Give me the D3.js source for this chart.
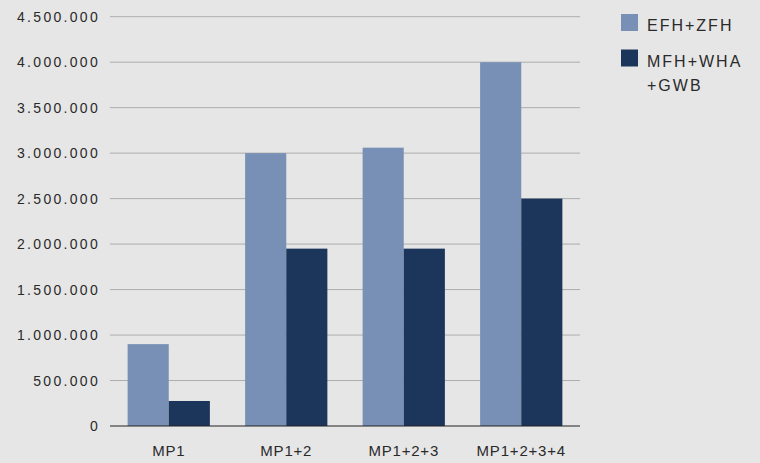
<!DOCTYPE html>
<html>
<head>
<meta charset="utf-8">
<script src="https://cdn.jsdelivr.net/npm/d3@7"></script>
<style>
  html, body { margin: 0; padding: 0; background: #e6e6e6; }
  svg { display: block; }
  text { font-family: "Liberation Sans", Arial, sans-serif; fill: #2a2a2a; }
</style>
</head>
<body>
<svg id="chart" width="760" height="463"></svg>
<script>
// Investment volume per scenario, grouped by building type
const categories = ["MP1", "MP1+2", "MP1+2+3", "MP1+2+3+4"];
const seriesNames = ["EFH+ZFH", "MFH+WHA+GWB"];
const efhZfh = [900000, 3000000, 3060000, 4000000];
const mfhWhaGwb = [275000, 1950000, 1950000, 2500000];
const yTicks = [0, 500000, 1000000, 1500000, 2000000, 2500000, 3000000, 3500000, 4000000, 4500000];
const colors = ["#7890b5", "#1c355a"];

const svg = d3.select("#chart");
const plot = { left: 110, right: 580, top: 16.7, bottom: 426 };

const x0 = d3.scaleBand().domain(categories).range([plot.left, plot.right])
  .paddingInner(0.3).paddingOuter(0.15);
const x1 = d3.scaleBand().domain(seriesNames).range([0, x0.bandwidth()]);
const y = d3.scaleLinear().domain([0, 4500000]).range([plot.bottom, plot.top]);

const fmt = v => d3.format(",")(v).replace(/,/g, ".");

// horizontal grid lines
svg.append("g").selectAll("line").data(yTicks.filter(d => d > 0)).join("line")
  .attr("x1", plot.left).attr("x2", plot.right)
  .attr("y1", d => y(d)).attr("y2", d => y(d))
  .attr("stroke", "#adadad").attr("stroke-width", 1);

// y-axis labels
const yAxis = d3.axisLeft(y).tickValues(yTicks).tickFormat(fmt).tickSize(0).tickPadding(10);
svg.append("g").attr("transform", `translate(${plot.left},0)`).call(yAxis)
  .call(g => g.select(".domain").remove())
  .call(g => g.selectAll("text")
    .attr("font-size", 14).attr("fill", "#333")
    .style("letter-spacing", "2.3px")
    .style("font-family", "'Liberation Sans', Arial, sans-serif"));

// bars
const rows = categories.map((c, i) => ({ c, vals: [efhZfh[i], mfhWhaGwb[i]] }));
svg.append("g").selectAll("g").data(rows).join("g")
  .attr("transform", d => `translate(${x0(d.c)},0)`)
  .selectAll("rect").data(d => d.vals.map((v, k) => ({ k, v }))).join("rect")
  .attr("x", d => x1(seriesNames[d.k]))
  .attr("width", x1.bandwidth())
  .attr("y", d => y(d.v))
  .attr("height", d => y(0) - y(d.v))
  .attr("fill", d => colors[d.k]);

// baseline
svg.append("line").attr("x1", plot.left).attr("x2", plot.right)
  .attr("y1", y(0)).attr("y2", y(0))
  .attr("stroke", "#222").attr("stroke-width", 1.2);

// x-axis labels
const xAxis = d3.axisBottom(x0).tickSize(0).tickPadding(19);
svg.append("g").attr("transform", `translate(0,${plot.bottom})`).call(xAxis)
  .call(g => g.select(".domain").remove())
  .call(g => g.selectAll("text")
    .attr("font-size", 15).attr("fill", "#111")
    .style("letter-spacing", "0.8px")
    .style("font-family", "'Liberation Sans', Arial, sans-serif"));

// legend
const legend = svg.append("g");
const legendLines = [["EFH+ZFH"], ["MFH+WHA", "+GWB"]];
const legendY = [14, 49.5];
legendLines.forEach((lines, k) => {
  legend.append("rect").attr("x", 621).attr("y", legendY[k])
    .attr("width", 17).attr("height", 17).attr("fill", colors[k]);
  const t = legend.append("text").attr("x", 647).attr("y", legendY[k] + 17)
    .attr("font-size", 16).attr("fill", "#333")
    .style("letter-spacing", "2px");
  lines.forEach((s, j) => t.append("tspan").attr("x", 647).attr("dy", j ? 24 : 0).text(s));
});
</script>
</body>
</html>
